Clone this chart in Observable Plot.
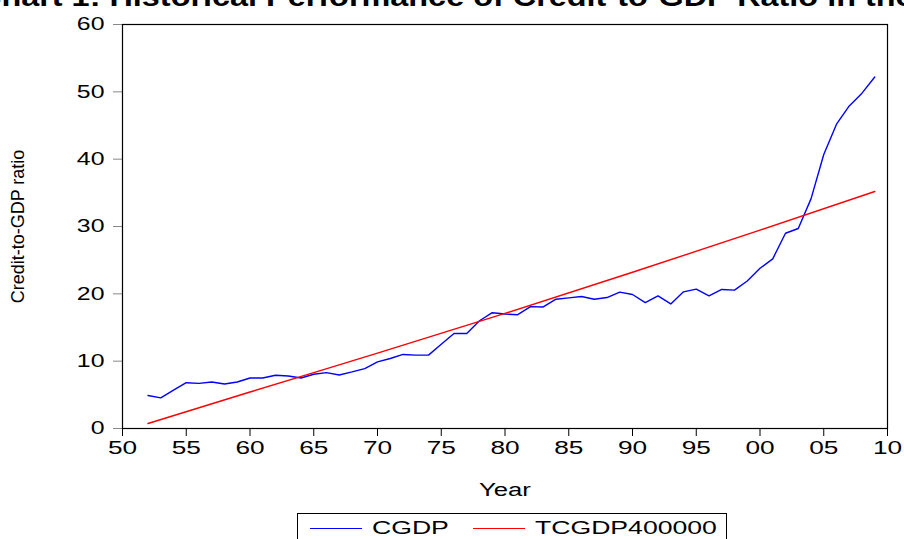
<!DOCTYPE html>
<html>
<head>
<meta charset="utf-8">
<script src="https://cdn.jsdelivr.net/npm/d3@7"></script>
<script src="https://cdn.jsdelivr.net/npm/@observablehq/plot@0.6"></script>
<style>
  html { margin: 0; padding: 0; background: #fff; overflow: hidden; }
  body { margin: 0; padding: 0; width: 904px; height: 539px; position: relative; font-family: Arial, "Liberation Sans", sans-serif; background: #fff; }
  #title { position: absolute; z-index: 2; top: -17px; left: -22px; white-space: nowrap; font-weight: bold; font-size: 27px; line-height: 29px; color: #000; transform: scaleX(1.2); transform-origin: left center; }
  #chart { position: absolute; z-index: 1; top: 0; left: 0; }
  #legend { position: absolute; z-index: 2; left: 297px; top: 513px; width: 430px; height: 30px; border: 1px solid #000; box-sizing: border-box; background: #fff; }
  .item { position: absolute; top: 2px; height: 24px; }
  .swatch { position: absolute; top: 12px; width: 52px; height: 0; }
  .lab { position: absolute; top: 0; font-size: 19px; line-height: 24px; transform: scaleX(1.4); transform-origin: left center; white-space: nowrap; }
</style>
</head>
<body>
<div id="chart"></div>
<div id="title">Chart 1: Historical Performance of Credit-to-GDP Ratio in the Economy</div>
<div id="legend">
  <div class="item" style="left:12px">
    <span class="swatch" style="left:0;border-top:1.5px solid #0000ff"></span>
    <span class="lab" style="left:62px">CGDP</span>
  </div>
  <div class="item" style="left:175px">
    <span class="swatch" style="left:0;border-top:1.5px solid #ff0000"></span>
    <span class="lab" style="left:62px">TCGDP400000</span>
  </div>
</div>
<script>
// Years
const years = [1952,1953,1954,1955,1956,1957,1958,1959,1960,1961,1962,1963,1964,1965,1966,1967,1968,1969,1970,1971,1972,1973,1974,1975,1976,1977,1978,1979,1980,1981,1982,1983,1984,1985,1986,1987,1988,1989,1990,1991,1992,1993,1994,1995,1996,1997,1998,1999,2000,2001,2002,2003,2004,2005,2006,2007,2008,2009];
// CGDP: credit-to-GDP ratio
const cgdp = [4.9,4.55,5.7,6.8,6.7,6.9,6.6,6.9,7.5,7.5,7.9,7.8,7.5,8.05,8.3,7.95,8.4,8.9,9.9,10.4,11.0,10.9,10.9,12.5,14.1,14.1,16.0,17.2,17.0,16.9,18.1,18.05,19.2,19.4,19.6,19.2,19.45,20.25,19.9,18.7,19.7,18.5,20.3,20.7,19.7,20.65,20.55,21.9,23.8,25.2,29.0,29.7,34.1,40.7,45.2,47.9,49.8,52.2];
// TCGDP400000: HP trend (read at selected years)
const trendYears = [1952,1960,1965,1970,1980,1990,2000,2009];
const trendVals = [0.74,5.42,8.3,11.2,17.1,23.2,29.45,35.2];
const yTicks = [0,10,20,30,40,50,60];
const xTicks = [1950,1955,1960,1965,1970,1975,1980,1985,1990,1995,2000,2005,2010];
const xTickLabels = ["50","55","60","65","70","75","80","85","90","95","00","05","10"];

const seriesC = years.map((y,i) => ({year: y, value: cgdp[i]}));
const seriesT = trendYears.map((y,i) => ({year: y, value: trendVals[i]}));

const chart = Plot.plot({
  width: 904,
  height: 510,
  marginTop: 24,
  marginBottom: 82,
  marginLeft: 122,
  marginRight: 17,
  style: {fontFamily: "Arial, 'Liberation Sans', sans-serif", background: "transparent", color: "#000"},
  x: {domain: [1950, 2010]},
  y: {domain: [0, 60]},
  marks: [
    Plot.axisY({ticks: yTicks, tickSize: 9, tickPadding: 9, fontSize: 18, label: null, stroke: "#888"}),
    Plot.axisX({ticks: xTicks, tickSize: 8, tickPadding: 4, fontSize: 19, label: null,
      tickFormat: (d) => xTickLabels[xTicks.indexOf(d)], stroke: "#000"}),
    Plot.line(seriesC, {x: "year", y: "value", stroke: "#0000ff", strokeWidth: 1.4}),
    Plot.line(seriesT, {x: "year", y: "value", stroke: "#ff0000", strokeWidth: 1.4}),
    Plot.frame({stroke: "#000", strokeWidth: 1.2}),
    Plot.text(["Credit-to-GDP ratio"], {frameAnchor: "left", textAnchor: "middle", rotate: -90, dx: -104, fontSize: 18, fill: "#000", letterSpacing: -0.4}),
    Plot.text(["Year"], {frameAnchor: "bottom", dy: 67, fontSize: 19, fill: "#000"})
  ]
});
// widen the tick label and axis title glyphs like the reference
chart.querySelectorAll('g[aria-label="x-axis tick label"] text, g[aria-label="y-axis tick label"] text').forEach(t => {
  const tr = t.getAttribute("transform") || "";
  t.setAttribute("transform", tr + " scale(1.38,1)");
});
chart.querySelectorAll('text').forEach(t => {
  if (t.textContent === "Year") {
    const tr = t.getAttribute("transform") || "";
    const x = t.getAttribute("x"), y = t.getAttribute("y");
    if (x !== null) {
      t.setAttribute("transform", tr + ` translate(${x},${y}) scale(1.35,1) translate(${-x},${-y})`);
    } else {
      t.setAttribute("transform", tr + " scale(1.35,1)");
    }
  }
});
document.getElementById("chart").appendChild(chart);
</script>
</body>
</html>
